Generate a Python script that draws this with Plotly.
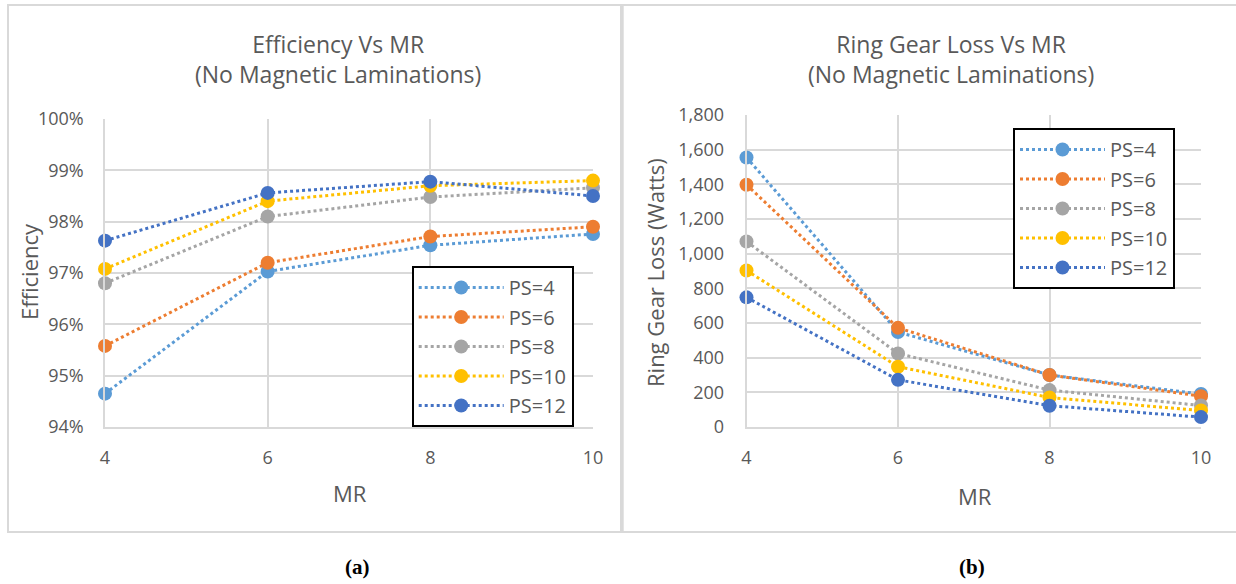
import plotly.graph_objects as go

W, H = 1236, 584

mr = [4, 6, 8, 10]
series_names = ["PS=4", "PS=6", "PS=8", "PS=10", "PS=12"]
colors = ["#5B9BD5", "#ED7D31", "#A5A5A5", "#FFC000", "#4472C4"]

eff_ps4 = [94.65, 97.03, 97.54, 97.76]
eff_ps6 = [95.58, 97.20, 97.71, 97.90]
eff_ps8 = [96.80, 98.10, 98.48, 98.66]
eff_ps10 = [97.08, 98.40, 98.70, 98.80]
eff_ps12 = [97.63, 98.56, 98.78, 98.50]
eff = [eff_ps4, eff_ps6, eff_ps8, eff_ps10, eff_ps12]

loss_ps4 = [1555, 548, 300, 190]
loss_ps6 = [1398, 572, 300, 178]
loss_ps8 = [1070, 424, 213, 124]
loss_ps10 = [903, 348, 170, 95]
loss_ps12 = [748, 272, 123, 57]
loss = [loss_ps4, loss_ps6, loss_ps8, loss_ps10, loss_ps12]

FONT = "Open Sans, sans-serif"
GRAY = "#595959"
GRID = "#D9D9D9"

fig = go.Figure()
for i, (name, col, ys) in enumerate(zip(series_names, colors, eff)):
    fig.add_trace(go.Scatter(x=mr, y=ys, name=name, mode="lines+markers",
                             line=dict(color=col, width=3, dash="dot"),
                             marker=dict(color=col, size=14),
                             legendgroup="a%d" % i,
                             cliponaxis=False, xaxis="x", yaxis="y", legend="legend"))
for i, (name, col, ys) in enumerate(zip(series_names, colors, loss)):
    fig.add_trace(go.Scatter(x=mr, y=ys, name=name, mode="lines+markers",
                             line=dict(color=col, width=3, dash="dot"),
                             marker=dict(color=col, size=14),
                             legendgroup="b%d" % i,
                             cliponaxis=False, xaxis="x2", yaxis="y2", legend="legend2"))

def px(x):
    return x / W

def py(y):
    return 1 - y / H

axis_common = dict(showgrid=True, gridcolor=GRID, gridwidth=1.5, zeroline=False,
                   tickfont=dict(family=FONT, size=18, color=GRAY),
                   showline=True, linecolor=GRID, linewidth=1.5, mirror=False,
                   automargin=False)

legend_common = dict(font=dict(family=FONT, size=20, color=GRAY),
                     bordercolor="black", borderwidth=2, bgcolor="white",
                     itemwidth=85, xanchor="left", yanchor="top", tracegroupgap=0.5)

fig.update_layout(
    width=W, height=H, autosize=False, margin=dict(l=0, r=0, t=0, b=0, pad=0),
    paper_bgcolor="white", plot_bgcolor="white",
    xaxis=dict(domain=[px(105), px(593)], range=[4, 10], tickvals=mr, anchor="y",
               ticklabelstandoff=14, **axis_common),
    yaxis=dict(domain=[py(427), py(119)], range=[94, 100], dtick=1, ticksuffix="%", anchor="x",
               ticklabelstandoff=16, **axis_common),
    xaxis2=dict(domain=[px(746.5), px(1201)], range=[4, 10], tickvals=mr, anchor="y2",
                ticklabelstandoff=14, **axis_common),
    yaxis2=dict(domain=[py(427), py(115)], range=[0, 1800], dtick=200, tickformat=",d", anchor="x2",
                ticklabelstandoff=17, **axis_common),
    legend=dict(x=px(411.7), y=py(266), **legend_common),
    legend2=dict(x=px(1013), y=py(128), **legend_common),
    showlegend=True,
)

# chart frames
fig.add_shape(type="rect", xref="paper", yref="paper", x0=px(8), x1=px(621), y0=py(532), y1=py(5),
              line=dict(color=GRID, width=2), layer="below")
fig.add_shape(type="rect", xref="paper", yref="paper", x0=px(622.7), x1=px(1240), y0=py(532), y1=py(5),
              line=dict(color=GRID, width=2), layer="below")

titles = [("Efficiency Vs MR<br>(No Magnetic Laminations)", 338),
          ("Ring Gear Loss Vs MR<br>(No Magnetic Laminations)", 951)]
for txt, cx in titles:
    fig.add_annotation(text=txt, x=px(cx), y=py(59), xref="paper", yref="paper",
                       showarrow=False, xanchor="center", yanchor="middle",
                       font=dict(family=FONT, size=23, color=GRAY), align="center")

axis_titles = [("Efficiency", 29, 272, -90), ("Ring Gear Loss (Watts)", 655, 272, -90),
               ("MR", 350, 493, 0), ("MR", 975, 496, 0)]
for txt, cx, cy, ang in axis_titles:
    fig.add_annotation(text=txt, x=px(cx), y=py(cy), xref="paper", yref="paper",
                       showarrow=False, xanchor="center", yanchor="middle", textangle=ang,
                       font=dict(family=FONT, size=22, color=GRAY))

for txt, cx in [("(a)", 357), ("(b)", 972)]:
    fig.add_annotation(text="<b>" + txt + "</b>", x=px(cx), y=py(567), xref="paper", yref="paper",
                       showarrow=False, xanchor="center", yanchor="middle",
                       font=dict(family="Liberation Serif, serif", size=21, color="black"))

fig.write_html("out.html", config={"displayModeBar": False},
               post_script="document.body.style.margin='0';document.body.style.overflow='hidden';")
